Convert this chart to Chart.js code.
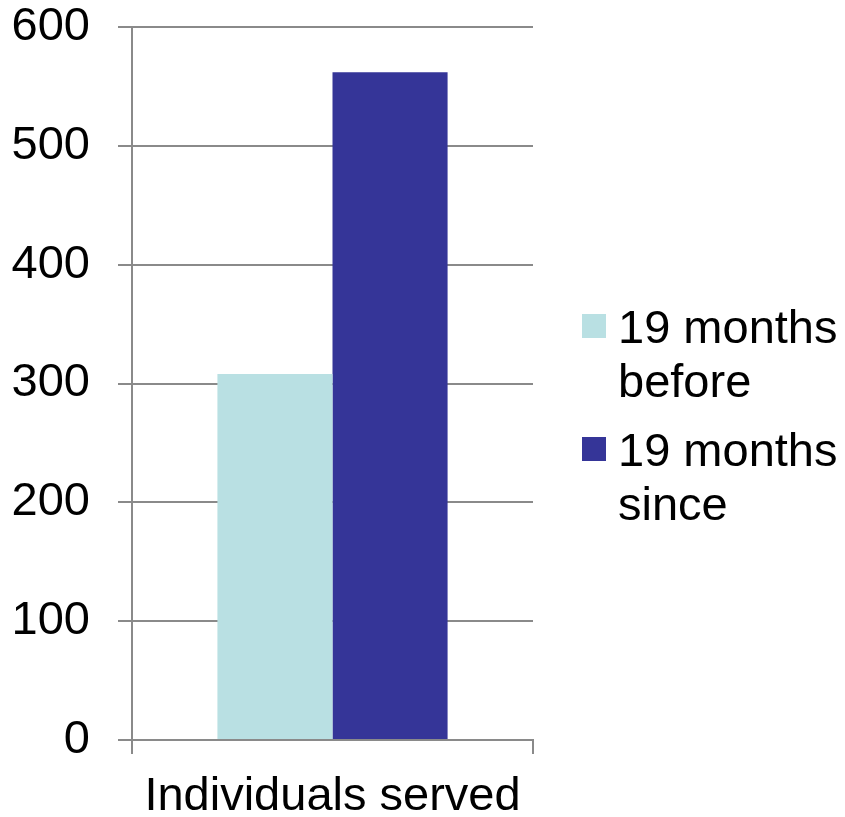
<!DOCTYPE html>
<html lang="en">
<head>
    <meta charset="UTF-8">
    <title>Individuals served</title>
    <style>
        body {
            margin: 0;
            padding: 0;
            background: #ffffff;
        }
        canvas {
            display: block;
        }
    </style>
</head>
<body>
<canvas id="chart" width="845" height="817"></canvas>

<script src="https://cdn.jsdelivr.net/npm/chart.js"></script>
<script>
    // dane z wykresu
    const categories = ['Individuals served'];
    const seriesNames = [['19 months', 'before'], ['19 months', 'since']];
    const beforeValues = [308];
    const sinceValues = [562];
    const yTicks = [0, 100, 200, 300, 400, 500, 600];

    const FONT = '"Liberation Sans", Arial, sans-serif';
    const gridColor = '#8a8a8a';

    // legenda rysowana recznie (dwie linie tekstu na pozycje)
    const sideLegend = {
        id: 'sideLegend',
        afterDraw(chart) {
            const ctx = chart.ctx;
            const x0 = 582;
            const tops = [314, 437];
            ctx.save();
            ctx.font = '47px ' + FONT;
            ctx.textBaseline = 'alphabetic';
            chart.data.datasets.forEach((ds, i) => {
                ctx.fillStyle = ds.backgroundColor;
                ctx.fillRect(x0, tops[i], 24, 24);
                ctx.fillStyle = '#000';
                seriesNames[i].forEach((line, j) => {
                    ctx.fillText(line, 618, tops[i] + 29 + j * 54);
                });
            });
            ctx.restore();
        }
    };

    new Chart(document.getElementById('chart'), {
        type: 'bar',
        data: {
            labels: categories,
            datasets: [
                {
                    label: seriesNames[0].join(' '),
                    data: beforeValues,
                    backgroundColor: '#b9e0e3'
                },
                {
                    label: seriesNames[1].join(' '),
                    data: sinceValues,
                    backgroundColor: '#353598'
                }
            ]
        },
        options: {
            responsive: false,
            animation: false,
            devicePixelRatio: 1,
            layout: {
                padding: { top: 27, right: 312, bottom: 0, left: 0 }
            },
            plugins: {
                legend: { display: false },
                tooltip: { enabled: false }
            },
            datasets: {
                bar: {
                    categoryPercentage: 0.574,
                    barPercentage: 1.0
                }
            },
            scales: {
                x: {
                    afterFit(scale) {
                        scale.height = 77;
                        scale.paddingLeft = 0;
                        scale.paddingRight = 0;
                    },
                    grid: {
                        drawOnChartArea: false,
                        drawTicks: true,
                        tickLength: 14,
                        color: gridColor,
                        lineWidth: 2
                    },
                    border: { color: gridColor, width: 2 },
                    ticks: {
                        color: '#000',
                        padding: 15,
                        font: { family: FONT, size: 47 }
                    }
                },
                y: {
                    min: 0,
                    max: 600,
                    afterFit(scale) {
                        scale.width = 132;
                        scale.paddingTop = 0;
                        scale.paddingBottom = 0;
                    },
                    afterBuildTicks(scale) {
                        scale.ticks = yTicks.map(v => ({ value: v }));
                    },
                    grid: {
                        color: gridColor,
                        lineWidth: 2,
                        tickLength: 14
                    },
                    border: { color: gridColor, width: 2 },
                    ticks: {
                        color: '#000',
                        padding: 28,
                        font: { family: FONT, size: 47 }
                    }
                }
            }
        },
        plugins: [sideLegend]
    });
</script>
</body>
</html>
